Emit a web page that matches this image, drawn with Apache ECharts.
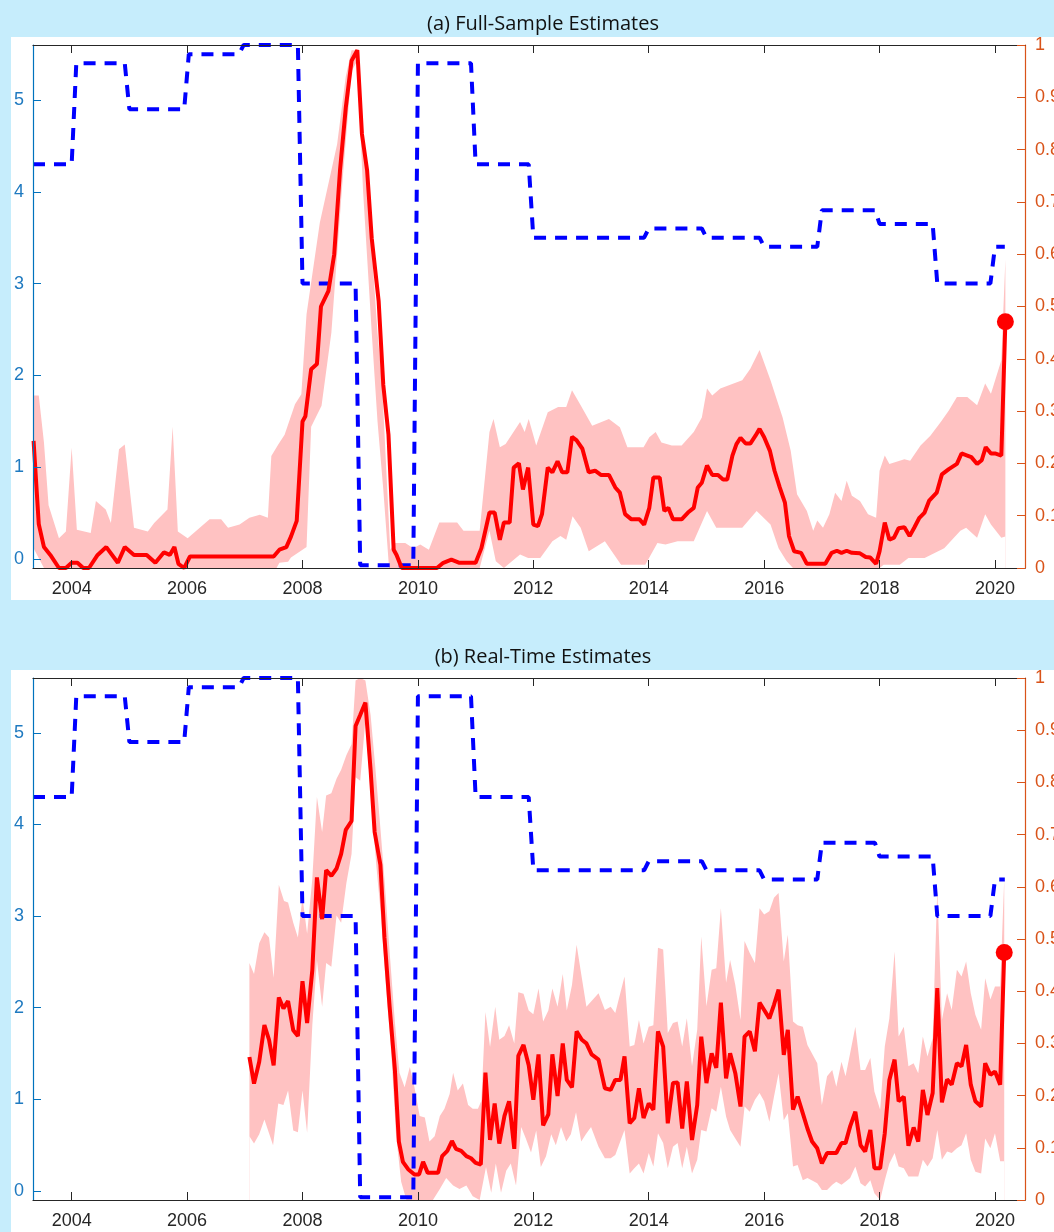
<!DOCTYPE html>
<html>
<head>
<meta charset="utf-8">
<script src="https://cdn.jsdelivr.net/npm/echarts@6/dist/echarts.min.js"></script>
<style>
    html, body { margin: 0; padding: 0; background: #c6edfc; }
    #main { width: 1054px; height: 1232px; }
</style>
</head>
<body>
<div id="main"></div>
<script type="text/javascript">
    // year ticks
    var yearTicks = [2004, 2006, 2008, 2010, 2012, 2014, 2016, 2018, 2020];
    var leftTicks = [0, 1, 2, 3, 4, 5];

    // blue dashed step line (left axis), same in both panels
    var rateLine = [[2003.33,4.3],[2004.0,4.3],[2004.08,5.4],[2004.92,5.4],[2005.0,4.9],[2005.95,4.9],[2006.03,5.5],
        [2006.9,5.5],[2006.98,5.6],[2007.92,5.6],[2008.0,3.0],[2008.92,3.0],[2009.0,-0.07],[2009.92,-0.07],[2010.0,5.4],
        [2010.92,5.4],[2011.0,4.3],[2011.92,4.3],[2012.0,3.5],[2013.92,3.5],[2014.0,3.6],[2014.92,3.6],[2015.0,3.5],
        [2015.92,3.5],[2016.0,3.4],[2016.92,3.4],[2017.0,3.8],[2017.92,3.8],[2018.0,3.65],[2018.92,3.65],[2019.0,3.0],
        [2019.92,3.0],[2020.0,3.4],[2020.17,3.4]];

    // (a) full-sample probability (right axis)
    var probA = [[2003.34,.243],[2003.43,.084],[2003.52,.04],[2003.63,.025],[2003.78,0],[2003.9,0],[2004.0,.01],[2004.1,.01],
        [2004.2,0],[2004.3,0],[2004.45,.025],[2004.6,.04],[2004.8,.01],[2004.92,.04],[2005.08,.025],[2005.3,.025],[2005.45,.01],
        [2005.6,.03],[2005.7,.025],[2005.78,.04],[2005.85,.008],[2005.95,0],[2006.05,.022],[2007.5,.022],[2007.6,.035],
        [2007.72,.04],[2007.8,.06],[2007.9,.09],[2008.0,.28],[2008.05,.29],[2008.15,.38],[2008.25,.39],[2008.32,.5],
        [2008.45,.53],[2008.55,.6],[2008.65,.76],[2008.75,.88],[2008.85,.97],[2008.95,.99],[2009.03,.83],[2009.12,.76],
        [2009.2,.63],[2009.32,.51],[2009.4,.35],[2009.49,.255],[2009.58,.035],[2009.63,.025],[2009.72,0],[2010.33,0],
        [2010.44,.01],[2010.58,.016],[2010.72,.01],[2011.0,.01],[2011.1,.038],[2011.24,.106],[2011.33,.106],[2011.42,.054],
        [2011.49,.087],[2011.59,.087],[2011.66,.192],[2011.75,.2],[2011.82,.15],[2011.91,.192],[2012.0,.083],[2012.08,.08],
        [2012.15,.103],[2012.25,.192],[2012.33,.183],[2012.42,.204],[2012.5,.183],[2012.59,.183],[2012.67,.251],[2012.75,.244],
        [2012.85,.228],[2012.96,.183],[2013.07,.186],[2013.17,.178],[2013.31,.178],[2013.42,.154],[2013.5,.144],[2013.59,.103],
        [2013.7,.093],[2013.84,.093],[2013.92,.083],[2014.01,.115],[2014.08,.173],[2014.19,.173],[2014.27,.109],[2014.34,.115],
        [2014.42,.093],[2014.57,.093],[2014.68,.106],[2014.78,.115],[2014.85,.154],[2014.92,.163],[2015.01,.196],[2015.1,.178],
        [2015.2,.178],[2015.29,.169],[2015.36,.169],[2015.45,.215],[2015.52,.237],[2015.59,.249],[2015.68,.238],[2015.76,.238],
        [2015.85,.253],[2015.92,.266],[2016.0,.25],[2016.1,.224],[2016.18,.186],[2016.27,.154],[2016.36,.125],[2016.43,.061],
        [2016.52,.032],[2016.64,.029],[2016.74,.008],[2017.06,.008],[2017.17,.029],[2017.26,.033],[2017.34,.029],[2017.43,.033],
        [2017.52,.029],[2017.66,.028],[2017.76,.021],[2017.84,.02],[2017.94,.008],[2018.0,.032],[2018.09,.087],[2018.17,.054],
        [2018.25,.058],[2018.33,.076],[2018.43,.078],[2018.52,.061],[2018.6,.077],[2018.69,.096],[2018.78,.106],[2018.86,.129],
        [2018.99,.144],[2019.08,.179],[2019.2,.189],[2019.34,.199],[2019.42,.219],[2019.52,.215],[2019.59,.212],[2019.69,.199],
        [2019.77,.206],[2019.84,.231],[2019.93,.219],[2020.0,.219],[2020.11,.215],[2020.18,.471]];
    var upperA = [[2003.34,.33],[2003.43,.33],[2003.52,.24],[2003.6,.12],[2003.78,.057],[2003.9,.07],[2004.0,.23],[2004.09,.073],
        [2004.33,.067],[2004.42,.128],[2004.59,.112],[2004.68,.086],[2004.82,.227],[2004.92,.236],[2005.08,.077],[2005.32,.07],
        [2005.43,.086],[2005.66,.112],[2005.75,.27],[2005.84,.07],[2006.01,.057],[2006.39,.093],[2006.59,.093],[2006.71,.077],
        [2006.91,.083],[2007.08,.096],[2007.26,.102],[2007.4,.096],[2007.46,.214],[2007.58,.236],[2007.69,.255],[2007.87,.313],
        [2007.98,.332],[2008.07,.485],[2008.3,.66],[2008.6,.81],[2008.75,.94],[2008.85,.99],[2008.95,.99],[2009.05,.84],
        [2009.2,.61],[2009.3,.45],[2009.38,.35],[2009.52,.035],[2009.6,.048],[2009.78,.048],[2009.92,.038],[2010.04,.045],
        [2010.19,.035],[2010.37,.087],[2010.68,.087],[2010.79,.071],[2011.07,.071],[2011.24,.26],[2011.31,.285],[2011.42,.231],
        [2011.52,.237],[2011.77,.279],[2011.85,.26],[2011.92,.285],[2012.05,.234],[2012.25,.298],[2012.43,.308],[2012.57,.308],
        [2012.67,.34],[2012.82,.311],[2013.02,.272],[2013.31,.285],[2013.5,.269],[2013.63,.231],[2013.91,.231],[2014.01,.25],
        [2014.12,.26],[2014.22,.24],[2014.4,.234],[2014.57,.234],[2014.78,.26],[2014.92,.288],[2015.01,.343],[2015.1,.33],
        [2015.24,.343],[2015.62,.359],[2015.76,.381],[2015.92,.417],[2016.11,.359],[2016.32,.288],[2016.46,.224],[2016.57,.141],
        [2016.74,.109],[2016.85,.071],[2016.92,.091],[2017.02,.077],[2017.13,.103],[2017.23,.144],[2017.34,.128],[2017.43,.167],
        [2017.52,.138],[2017.66,.128],[2017.8,.103],[2017.94,.096],[2018.0,.186],[2018.09,.215],[2018.17,.199],[2018.43,.208],
        [2018.53,.205],[2018.71,.234],[2018.88,.253],[2019.06,.279],[2019.2,.301],[2019.34,.327],[2019.52,.327],[2019.69,.311],
        [2019.83,.353],[2019.93,.333],[2020.11,.397],[2020.18,.59]];
    var lowerA = [[2003.34,.038],[2003.52,0],[2007.55,0],[2007.6,.01],[2007.75,.012],[2007.8,.02],[2008.0,.035],[2008.07,.04],
        [2008.15,.27],[2008.33,.31],[2008.5,.45],[2008.7,.75],[2008.85,.95],[2008.95,.97],[2009.05,.72],[2009.2,.45],
        [2009.3,.28],[2009.4,.15],[2009.5,0],[2011.07,0],[2011.24,.071],[2011.35,.013],[2011.49,0],[2011.77,.026],[2011.91,.019],
        [2012.12,.019],[2012.33,.051],[2012.47,.061],[2012.57,.054],[2012.68,.099],[2012.82,.077],[2012.96,.032],[2013.24,.051],
        [2013.52,.006],[2013.94,.006],[2014.15,.048],[2014.29,.045],[2014.5,.051],[2014.78,.051],[2015.01,.109],[2015.17,.077],
        [2015.62,.077],[2015.87,.109],[2016.11,.083],[2016.25,.038],[2016.39,.013],[2016.5,0],[2018.0,0],[2018.07,.006],
        [2018.35,.006],[2018.5,.019],[2018.78,.019],[2019.12,.038],[2019.4,.071],[2019.5,.077],[2019.69,.058],[2019.83,.103],
        [2019.93,.083],[2020.11,.058],[2020.18,.06]];

    // (b) real-time probability (right axis)
    var probB = [[2007.08,.274],[2007.16,.223],[2007.25,.265],[2007.34,.335],[2007.42,.307],[2007.5,.258],[2007.59,.388],
        [2007.67,.367],[2007.75,.381],[2007.84,.325],[2007.92,.314],[2008.0,.419],[2008.08,.339],[2008.17,.44],[2008.25,.618],
        [2008.34,.538],[2008.41,.632],[2008.5,.621],[2008.59,.635],[2008.67,.663],[2008.75,.709],[2008.85,.726],[2008.92,.908],
        [2009.0,.929],[2009.09,.953],[2009.18,.824],[2009.25,.705],[2009.35,.642],[2009.42,.503],[2009.51,.37],[2009.6,.251],
        [2009.67,.112],[2009.74,.073],[2009.83,.059],[2009.94,.049],[2010.02,.049],[2010.09,.073],[2010.17,.052],[2010.35,.052],
        [2010.42,.084],[2010.51,.094],[2010.59,.113],[2010.66,.098],[2010.75,.094],[2010.84,.084],[2010.92,.08],[2011.0,.071],
        [2011.09,.068],[2011.17,.244],[2011.25,.115],[2011.33,.185],[2011.41,.108],[2011.5,.161],[2011.58,.189],[2011.67,.098],
        [2011.74,.276],[2011.83,.297],[2011.92,.258],[2012.0,.192],[2012.09,.279],[2012.17,.143],[2012.26,.164],[2012.33,.279],
        [2012.42,.199],[2012.51,.3],[2012.58,.23],[2012.67,.216],[2012.75,.323],[2012.84,.307],[2012.92,.3],[2013.01,.279],
        [2013.13,.269],[2013.24,.214],[2013.34,.211],[2013.42,.23],[2013.51,.23],[2013.58,.275],[2013.67,.147],[2013.75,.157],
        [2013.83,.214],[2013.91,.157],[2014.0,.185],[2014.08,.173],[2014.16,.323],[2014.25,.294],[2014.33,.147],[2014.42,.224],
        [2014.5,.225],[2014.58,.137],[2014.66,.227],[2014.75,.115],[2014.84,.182],[2014.91,.313],[2015.0,.224],[2015.09,.281],
        [2015.17,.253],[2015.25,.378],[2015.34,.233],[2015.41,.281],[2015.5,.243],[2015.59,.179],[2015.66,.313],[2015.75,.323],
        [2015.84,.285],[2015.92,.378],[2016.0,.364],[2016.09,.348],[2016.17,.374],[2016.25,.403],[2016.34,.278],[2016.41,.326],
        [2016.5,.173],[2016.58,.198],[2016.67,.166],[2016.75,.137],[2016.83,.112],[2016.92,.099],[2017.0,.07],[2017.09,.09],
        [2017.18,.09],[2017.25,.09],[2017.34,.109],[2017.41,.109],[2017.49,.141],[2017.58,.169],[2017.67,.105],[2017.75,.093],
        [2017.84,.134],[2017.91,.061],[2018.01,.061],[2018.09,.128],[2018.17,.23],[2018.26,.269],[2018.33,.189],[2018.42,.198],
        [2018.5,.104],[2018.59,.139],[2018.67,.112],[2018.75,.211],[2018.83,.163],[2018.92,.205],[2019.0,.406],[2019.08,.187],
        [2019.17,.231],[2019.25,.221],[2019.34,.262],[2019.42,.256],[2019.5,.297],[2019.58,.221],[2019.66,.189],[2019.76,.179],
        [2019.83,.262],[2019.92,.24],[2020.0,.246],[2020.09,.221],[2020.16,.474]];
    var upperB = [[2007.08,.454],[2007.16,.433],[2007.25,.492],[2007.34,.513],[2007.42,.503],[2007.5,.426],[2007.59,.604],
        [2007.68,.573],[2007.75,.57],[2007.84,.531],[2007.92,.503],[2008.0,.58],[2008.08,.51],[2008.17,.615],[2008.25,.772],
        [2008.34,.705],[2008.41,.775],[2008.5,.779],[2008.59,.807],[2008.67,.824],[2008.76,.852],[2008.85,.873],[2008.92,.995],
        [2009.0,1.0],[2009.09,.995],[2009.18,.929],[2009.26,.831],[2009.35,.712],[2009.42,.615],[2009.51,.475],[2009.6,.342],
        [2009.68,.244],[2009.77,.216],[2009.86,.255],[2009.94,.216],[2010.03,.161],[2010.12,.158],[2010.2,.112],[2010.29,.122],
        [2010.38,.161],[2010.46,.175],[2010.55,.203],[2010.61,.244],[2010.69,.21],[2010.78,.223],[2010.87,.182],[2010.95,.175],
        [2011.04,.175],[2011.1,.19],[2011.17,.36],[2011.25,.293],[2011.34,.37],[2011.41,.307],[2011.5,.314],[2011.58,.335],
        [2011.67,.3],[2011.74,.398],[2011.83,.395],[2011.92,.363],[2012.0,.356],[2012.09,.405],[2012.17,.342],[2012.26,.363],
        [2012.33,.405],[2012.42,.37],[2012.51,.433],[2012.58,.363],[2012.67,.412],[2012.75,.489],[2012.84,.426],[2012.92,.37],
        [2013.13,.396],[2013.24,.364],[2013.34,.37],[2013.42,.358],[2013.58,.428],[2013.67,.294],[2013.75,.297],[2013.83,.345],
        [2013.91,.3],[2014.0,.332],[2014.08,.335],[2014.16,.483],[2014.25,.48],[2014.33,.32],[2014.42,.339],[2014.5,.342],
        [2014.58,.294],[2014.66,.348],[2014.75,.256],[2014.84,.326],[2014.91,.505],[2015.0,.371],[2015.09,.441],[2015.17,.444],
        [2015.25,.559],[2015.34,.416],[2015.41,.46],[2015.5,.412],[2015.59,.345],[2015.66,.496],[2015.75,.473],[2015.84,.454],
        [2015.92,.559],[2016.0,.547],[2016.09,.553],[2016.17,.579],[2016.25,.588],[2016.34,.457],[2016.41,.508],[2016.5,.342],
        [2016.58,.335],[2016.67,.332],[2016.75,.297],[2016.92,.262],[2017.0,.182],[2017.09,.237],[2017.18,.249],[2017.25,.217],
        [2017.34,.265],[2017.41,.237],[2017.49,.281],[2017.58,.332],[2017.67,.249],[2017.75,.249],[2017.84,.272],[2017.91,.208],
        [2018.01,.173],[2018.09,.294],[2018.17,.348],[2018.26,.476],[2018.33,.313],[2018.42,.332],[2018.5,.256],[2018.59,.262],
        [2018.67,.243],[2018.75,.313],[2018.83,.275],[2018.92,.31],[2019.0,.595],[2019.08,.345],[2019.17,.396],[2019.25,.364],
        [2019.34,.441],[2019.42,.428],[2019.5,.457],[2019.58,.396],[2019.66,.355],[2019.76,.326],[2019.83,.425],[2019.92,.384],
        [2020.0,.409],[2020.09,.409],[2020.16,.614]];
    var lowerB = [[2007.08,.122],[2007.16,.108],[2007.25,.126],[2007.34,.154],[2007.49,.105],[2007.58,.185],[2007.67,.182],
        [2007.75,.21],[2007.84,.133],[2007.92,.13],[2008.0,.21],[2008.08,.129],[2008.17,.335],[2008.25,.46],[2008.34,.37],
        [2008.41,.454],[2008.5,.447],[2008.59,.545],[2008.67,.531],[2008.76,.607],[2008.85,.663],[2008.92,.81],[2009.0,.803],
        [2009.09,.92],[2009.18,.78],[2009.28,.64],[2009.36,.545],[2009.45,.405],[2009.54,.279],[2009.62,.126],[2009.71,.035],
        [2009.8,0],[2010.26,0],[2010.38,.021],[2010.49,.042],[2010.61,.028],[2010.72,.021],[2010.84,.028],[2010.95,.007],
        [2011.07,0],[2011.18,.063],[2011.27,.014],[2011.35,.07],[2011.44,.014],[2011.53,.056],[2011.61,.07],[2011.7,.028],
        [2011.79,.14],[2011.87,.118],[2011.96,.091],[2012.05,.133],[2012.13,.063],[2012.22,.084],[2012.31,.126],[2012.39,.105],
        [2012.48,.14],[2012.57,.112],[2012.65,.126],[2012.74,.168],[2012.83,.112],[2012.91,.126],[2013.0,.14],[2013.13,.102],
        [2013.24,.08],[2013.34,.08],[2013.42,.086],[2013.58,.134],[2013.67,.051],[2013.75,.061],[2013.83,.07],[2013.91,.051],
        [2014.0,.09],[2014.08,.064],[2014.16,.128],[2014.25,.109],[2014.33,.061],[2014.42,.102],[2014.5,.109],[2014.58,.061],
        [2014.66,.102],[2014.75,.051],[2014.84,.077],[2014.91,.134],[2015.0,.131],[2015.09,.176],[2015.17,.169],[2015.25,.217],
        [2015.34,.16],[2015.41,.134],[2015.5,.118],[2015.59,.102],[2015.66,.179],[2015.75,.169],[2015.84,.192],[2015.92,.205],
        [2016.0,.189],[2016.09,.15],[2016.17,.198],[2016.25,.243],[2016.34,.153],[2016.41,.166],[2016.5,.064],[2016.58,.067],
        [2016.67,.038],[2016.75,.042],[2016.92,.032],[2017.0,.019],[2017.09,.019],[2017.18,.029],[2017.25,.035],[2017.34,.029],
        [2017.41,.035],[2017.49,.042],[2017.58,.064],[2017.67,.032],[2017.75,.026],[2017.84,.038],[2017.91,.013],[2018.01,0],
        [2018.09,.038],[2018.17,.07],[2018.26,.09],[2018.33,.064],[2018.42,.061],[2018.5,.045],[2018.59,.045],[2018.67,.045],
        [2018.75,.077],[2018.83,.064],[2018.92,.08],[2019.0,.134],[2019.08,.077],[2019.17,.093],[2019.25,.09],[2019.34,.099],
        [2019.42,.105],[2019.5,.128],[2019.58,.077],[2019.66,.054],[2019.76,.051],[2019.83,.118],[2019.92,.099],[2020.0,.128],
        [2020.09,.074],[2020.16,.074]];

    var myChart = echarts.init(document.getElementById('main'));

    var axisFont = 'Liberation Sans';
    var blueAxis = '#0072BD';
    var orangeAxis = '#D95319';
    var darkAxis = '#262626';

    var grids = [
        { left: 33, right: 29, top: 45, height: 523, outerBoundsMode: 'none', containLabel: false },
        { left: 33, right: 29, top: 678, height: 522, outerBoundsMode: 'none', containLabel: false }
    ];

    var xAxes = [], yAxes = [], series = [];
    var sets = [[probA, upperA, lowerA], [probB, upperB, lowerB]];

    for (var g = 0; g < 2; g++) {
        // bottom + top axes
        xAxes.push({
            type: 'value', gridIndex: g, min: 2003.33, max: 2020.52, position: 'bottom', z: 10,
            axisLine: { onZero: false, lineStyle: { color: darkAxis, width: 1.2 } },
            axisTick: { inside: true, length: 8, customValues: yearTicks, lineStyle: { color: darkAxis } },
            axisLabel: { customValues: yearTicks, color: darkAxis, fontSize: 18, fontFamily: axisFont, margin: 12,
                formatter: function (v) { return String(Math.round(v)); } },
            splitLine: { show: false }
        });
        xAxes.push({
            type: 'value', gridIndex: g, min: 2003.33, max: 2020.52, position: 'top', z: 10,
            axisLine: { onZero: false, lineStyle: { color: darkAxis, width: 1.2 } },
            axisTick: { inside: true, length: 8, customValues: yearTicks, lineStyle: { color: darkAxis } },
            axisLabel: { show: false },
            splitLine: { show: false }
        });
        yAxes.push({
            type: 'value', gridIndex: g, min: -0.1, max: 5.6, position: 'left', z: 10,
            axisLine: { show: true, onZero: false, lineStyle: { color: blueAxis, width: 1.2 } },
            axisTick: { show: true, inside: true, length: 8, customValues: leftTicks, lineStyle: { color: blueAxis } },
            axisLabel: { customValues: leftTicks, color: '#1f7ac0', fontSize: 18, fontFamily: axisFont, margin: 9 },
            splitLine: { show: false }
        });
        yAxes.push({
            type: 'value', gridIndex: g, min: 0, max: 1, interval: 0.1, position: 'right', z: 10,
            axisLine: { show: true, onZero: false, lineStyle: { color: orangeAxis, width: 1.2 } },
            axisTick: { show: true, inside: true, length: 8, lineStyle: { color: orangeAxis } },
            axisLabel: { color: orangeAxis, fontSize: 18, fontFamily: axisFont, margin: 10 },
            splitLine: { show: false }
        });

        var xb = g * 2, yl = g * 2, yr = g * 2 + 1;
        var s = sets[g];
        series.push({
            type: 'line', xAxisIndex: xb, yAxisIndex: yr, data: s[1], showSymbol: false, z: 1,
            lineStyle: { width: 0 }, areaStyle: { color: '#ffc2c2', opacity: 1 }, silent: true
        });
        series.push({
            type: 'line', xAxisIndex: xb, yAxisIndex: yr, data: s[2], showSymbol: false, z: 2,
            lineStyle: { width: 0 }, areaStyle: { color: '#ffffff', opacity: 1 }, silent: true
        });
        series.push({
            type: 'line', xAxisIndex: xb, yAxisIndex: yl, data: rateLine, showSymbol: false, z: 3,
            lineStyle: { color: '#0000ff', width: 4, type: [12, 9] }
        });
        series.push({
            type: 'line', xAxisIndex: xb, yAxisIndex: yr, data: s[0], showSymbol: false, z: 4,
            lineStyle: { color: '#ff0000', width: 4 }
        });
        series.push({
            type: 'scatter', xAxisIndex: xb, yAxisIndex: yr, data: [s[0][s[0].length - 1]], z: 5,
            symbolSize: 17, itemStyle: { color: '#ff0000', opacity: 1 }
        });
    }

    var option = {
        backgroundColor: '#c6edfc',
        animation: false,
        title: [
            { text: '(a) Full-Sample Estimates', left: 538, top: 9, textAlign: 'center',
              textStyle: { fontSize: 20, fontWeight: 'normal', color: '#111', fontFamily: 'Open Sans' } },
            { text: '(b) Real-Time Estimates', left: 538, top: 642, textAlign: 'center',
              textStyle: { fontSize: 20, fontWeight: 'normal', color: '#111', fontFamily: 'Open Sans' } }
        ],
        graphic: [
            { type: 'rect', shape: { x: 11, y: 37, width: 1043, height: 563 }, style: { fill: '#ffffff' }, z: -10 },
            { type: 'rect', shape: { x: 11, y: 670, width: 1043, height: 562 }, style: { fill: '#ffffff' }, z: -10 }
        ],
        grid: grids,
        xAxis: xAxes,
        yAxis: yAxes,
        series: series
    };

    myChart.setOption(option);
</script>
</body>
</html>
